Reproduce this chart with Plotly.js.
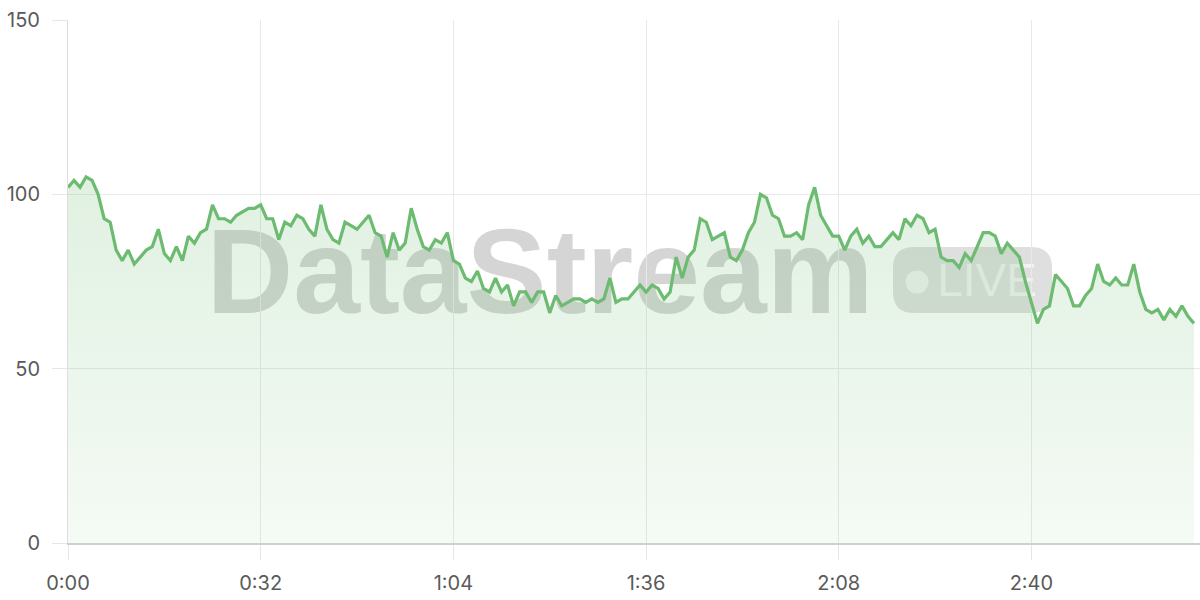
<!DOCTYPE html>
<html>
<head>
<meta charset="utf-8">
<script src="https://cdn.plot.ly/plotly-3.0.1.min.js"></script>
<style>html,body{margin:0;padding:0;background:#fff;}#chart{width:1200px;height:600px;}</style>
</head>
<body>
<div id="chart"></div>
<script>
// Sampled values, one per second (0:00 .. 3:07)
const values = [
  102,104,102,105,104,100,93,92,84,81,
  84,80,82,84,85,90,83,81,85,81,
  88,86,89,90,97,93,93,92,94,95,
  96,96,97,93,93,87,92,91,94,93,
  90,88,97,90,87,86,92,91,90,92,
  94,89,88,82,89,84,86,96,90,85,
  84,87,86,89,81,80,76,75,78,73,
  72,76,72,74,68,72,72,69,72,72,
  66,71,68,69,70,70,69,70,69,70,
  76,69,70,70,72,74,72,74,73,70,
  72,82,76,82,84,93,92,87,88,89,
  82,81,84,89,92,100,99,94,93,88,
  88,89,87,97,102,94,91,88,88,84,
  88,90,86,88,85,85,87,89,87,93,
  91,94,93,89,90,82,81,81,79,83,
  81,85,89,89,88,83,86,84,82,75,
  69,63,67,68,77,75,73,68,68,71,
  73,80,75,74,76,74,74,80,72,67,
  66,67,64,67,65,68,65,63
];
const seconds = values.map((v, i) => i);
const tickSeconds = [0, 32, 64, 96, 128, 160];
const tickLabels = ["0:00", "0:32", "1:04", "1:36", "2:08", "2:40"];
const yTicks = [0, 50, 100, 150];
const watermarkText = "DataStream";
const badgeText = "LIVE";

const lineColor = "rgb(108,187,112)";

const trace = {
  type: "scatter",
  mode: "lines",
  x: seconds,
  y: values,
  line: { color: lineColor, width: 3.2, shape: "linear" },
  fill: "tozeroy",
  fillgradient: {
    type: "vertical",
    start: 0,
    stop: 105,
    colorscale: [[0, "rgba(108,187,112,0.07)"], [1, "rgba(108,187,112,0.21)"]]
  },
  hoverinfo: "x+y"
};

// helpers for paper coords from plot-area pixels
const L = 68, R = 1200, T = 20, B = 543;
const px = v => (v - L) / (R - L);
const py = v => (B - v) / (B - T);

function roundedRect(x0, y0, x1, y1, r) {
  const rx = r / (R - L), ry = r / (B - T);
  const X0 = px(x0), X1 = px(x1), Y0 = py(y1), Y1 = py(y0);
  return `M ${X0 + rx},${Y0} L ${X1 - rx},${Y0} Q ${X1},${Y0} ${X1},${Y0 + ry} ` +
         `L ${X1},${Y1 - ry} Q ${X1},${Y1} ${X1 - rx},${Y1} L ${X0 + rx},${Y1} ` +
         `Q ${X0},${Y1} ${X0},${Y1 - ry} L ${X0},${Y0 + ry} Q ${X0},${Y0} ${X0 + rx},${Y0} Z`;
}

const shapes = [
  {
    type: "rect", xref: "paper", yref: "paper", layer: "below",
    x0: px(190), x1: px(890), y0: py(320), y1: py(200),
    line: { width: 0 }, fillcolor: "rgba(0,0,0,0)",
    label: {
      text: watermarkText, textposition: "middle center",
      font: { family: "Liberation Sans, Arial, sans-serif", size: 120, weight: 700, color: "rgba(120,120,120,0.31)" }
    }
  },
  {
    type: "path", xref: "paper", yref: "paper", layer: "below",
    path: roundedRect(893, 247, 1052, 313, 21),
    line: { width: 0 }, fillcolor: "rgba(120,120,120,0.24)"
  },
  {
    type: "circle", xref: "paper", yref: "paper", layer: "below",
    x0: px(905.5), x1: px(928.5), y0: py(293.5), y1: py(270.5),
    line: { width: 0 }, fillcolor: "rgba(255,255,255,0.6)"
  },
  {
    type: "rect", xref: "paper", yref: "paper", layer: "below",
    x0: px(935), x1: px(1039), y0: py(301), y1: py(251),
    line: { width: 0 }, fillcolor: "rgba(0,0,0,0)",
    label: {
      text: badgeText, textposition: "middle center",
      font: { family: "Liberation Sans, Arial, sans-serif", size: 46, color: "rgba(255,255,255,0.6)" }
    }
  }
];

const layout = {
  width: 1200, height: 600,
  margin: { l: 68, r: 0, t: 20, b: 57, pad: 0 },
  paper_bgcolor: "#ffffff",
  plot_bgcolor: "#ffffff",
  showlegend: false,
  font: { family: "Inter, Roboto, sans-serif", size: 20, color: "#5a5a5a" },
  xaxis: {
    range: [0, 188],
    tickmode: "array", tickvals: tickSeconds, ticktext: tickLabels,
    showgrid: true, gridcolor: "#e9e9e9", gridwidth: 1,
    ticks: "outside", ticklen: 15, tickcolor: "#e6e6e6", tickwidth: 1,
    showline: true, linecolor: "#cfcfcf", linewidth: 2,
    zeroline: false,
    tickfont: { size: 20, color: "#5a5a5a" },
    ticklabelstandoff: 6
  },
  yaxis: {
    range: [0, 150],
    tickmode: "array", tickvals: yTicks,
    showgrid: true, gridcolor: "#e9e9e9", gridwidth: 1,
    ticks: "outside", ticklen: 15, tickcolor: "#e6e6e6", tickwidth: 1,
    showline: true, linecolor: "#dedede", linewidth: 1,
    zeroline: false,
    tickfont: { size: 20, color: "#5a5a5a" },
    ticklabelstandoff: 8
  },
  shapes: shapes
};

Plotly.newPlot("chart", [trace], layout, { displayModeBar: false, staticPlot: true });
</script>
</body>
</html>
